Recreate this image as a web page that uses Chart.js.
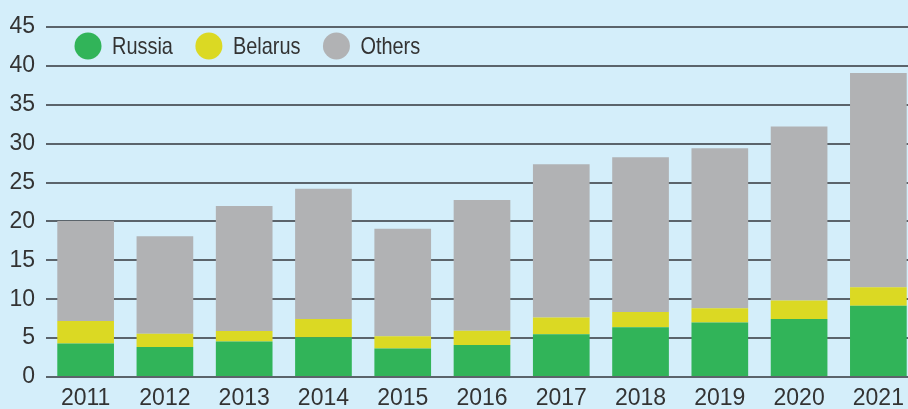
<!DOCTYPE html>
<html lang="en">
<head>
<meta charset="utf-8"/>
<title>Imports by origin</title>
<script src="https://cdn.jsdelivr.net/npm/chart.js@4.4.1/dist/chart.umd.min.js"></script>
<style>
    html, body {
        margin: 0;
        padding: 0;
        background: #d4eefa;
        overflow: hidden;
    }
    .wrapper {
        width: 918px;
        height: 409px;
        position: relative;
    }
</style>
</head>
<body>
<div class="wrapper">
    <canvas id="chart1"></canvas>
</div>

<script>
    var years = ['2011', '2012', '2013', '2014', '2015', '2016', '2017', '2018', '2019', '2020', '2021'];
    var russia = [4.3, 3.85, 4.55, 5.1, 3.65, 4.1, 5.5, 6.4, 7.0, 7.45, 9.15];
    var belarus = [2.9, 1.7, 1.35, 2.35, 1.6, 1.85, 2.15, 1.95, 1.85, 2.4, 2.4];
    var others = [12.85, 12.55, 16.1, 16.75, 13.8, 16.8, 19.7, 19.9, 20.55, 22.35, 27.55];
    var yTicks = [0, 5, 10, 15, 20, 25, 30, 35, 40, 45];

    var fontFamily = "'Liberation Sans', Arial, sans-serif";
    var textColor = '#333333';

    // legend drawn inside the plot, top left (text squeezed a bit, the original face is condensed)
    var insideLegend = {
        id: 'insideLegend',
        afterDraw: function (chart) {
            var ctx = chart.ctx;
            var x = chart.chartArea.left + 42;
            var y = 46;
            var squeeze = 0.83;
            ctx.save();
            ctx.font = '24px ' + fontFamily;
            ctx.textBaseline = 'middle';
            ctx.textAlign = 'left';
            chart.data.datasets.forEach(function (ds) {
                ctx.fillStyle = ds.backgroundColor;
                ctx.beginPath();
                ctx.arc(x, y, 13.5, 0, Math.PI * 2);
                ctx.fill();
                ctx.fillStyle = textColor;
                ctx.save();
                ctx.translate(x + 24, y + 1);
                ctx.scale(squeeze, 1);
                ctx.fillText(ds.label, 0, 0);
                ctx.restore();
                x = x + 24 + ctx.measureText(ds.label).width * squeeze + 36;
            });
            ctx.restore();
        }
    };

    var ch1 = document.getElementById('chart1').getContext('2d');
    var chart1 = new Chart(ch1, {
        type: 'bar',
        data: {
            labels: years,
            datasets: [
                { label: 'Russia', data: russia, backgroundColor: '#31b459' },
                { label: 'Belarus', data: belarus, backgroundColor: '#dbd923' },
                { label: 'Others', data: others, backgroundColor: '#b1b2b4' }
            ]
        },
        plugins: [insideLegend],
        options: {
            responsive: true,
            maintainAspectRatio: false,
            animation: false,
            layout: {
                padding: { top: 27, right: 0, bottom: 0, left: 0 }
            },
            datasets: {
                bar: {
                    categoryPercentage: 1.0,
                    barPercentage: 0.715
                }
            },
            plugins: {
                legend: { display: false },
                tooltip: { enabled: false }
            },
            scales: {
                x: {
                    stacked: true,
                    grid: { display: false, drawTicks: false },
                    border: { display: false },
                    ticks: {
                        color: textColor,
                        padding: 10,
                        maxRotation: 0,
                        font: { family: fontFamily, size: 23, lineHeight: 1 }
                    },
                    afterFit: function (scale) { scale.height = 32; }
                },
                y: {
                    stacked: true,
                    min: 0,
                    max: 45,
                    afterBuildTicks: function (scale) {
                        scale.ticks = yTicks.map(function (v) { return { value: v }; });
                    },
                    grid: {
                        color: '#5b646b',
                        lineWidth: 2,
                        drawTicks: false
                    },
                    border: { display: false },
                    ticks: {
                        color: textColor,
                        padding: 11,
                        font: { family: fontFamily, size: 23, lineHeight: 1 }
                    },
                    afterFit: function (scale) { scale.width = 46; }
                }
            }
        }
    });
</script>
</body>
</html>
